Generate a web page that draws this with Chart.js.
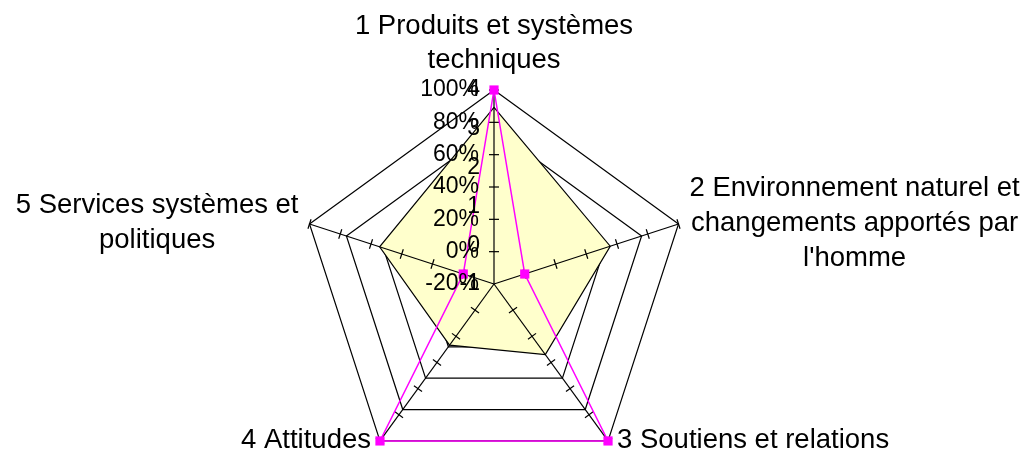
<!DOCTYPE html>
<html><head><meta charset="utf-8">
<script src="https://cdn.jsdelivr.net/npm/chart.js@4/dist/chart.umd.min.js"></script>
<style>html,body{margin:0;padding:0;background:#fff;overflow:hidden}#wrap{width:1026px;height:454px;position:relative}</style>
</head><body><div id="wrap"><canvas id="c" width="1026" height="454"></canvas></div>
<script>
// ---- data ----
const categories = [
  ["1 Produits et systèmes", "techniques"],
  ["2 Environnement naturel et", "changements apportés par", "l'homme"],
  ["3 Soutiens et relations"],
  ["4 Attitudes"],
  ["5 Services systèmes et", "politiques"]
];
const meanScores = [3.55, 2.15, 1.25, 0.95, 2.1];      // score axis (-1 .. 4)
const percentSeries = [100, 0, 100, 100, 0];           // percent axis (-20% .. 100%)
const scoreTicks = [-1, 0, 1, 2, 3, 4];
const scoreTickLabels = ["-1", "0", "1", "2", "3", "4"];
const percentTicks = [-20, 0, 20, 40, 60, 80, 100];
const percentTickLabels = ["-20%", "0%", "20%", "40%", "60%", "80%", "100%"];

const FONT = '"Liberation Sans", Arial, sans-serif';
const LAYOUT = { cx: 494, cy: 284, radius: 194 };

function placeScale(scale) {
  scale.xCenter = LAYOUT.cx;
  scale.yCenter = LAYOUT.cy;
  scale.drawingArea = LAYOUT.radius;
}

const overlay = {
  id: 'overlay',
  beforeDatasetDraw(chart, args) {
    if (args.index !== 0) return;
    const r = chart.scales.r, p = chart.scales.r2, ctx = chart.ctx;
    ctx.save();
    ctx.strokeStyle = '#000';
    ctx.lineWidth = 1.2;
    for (let i = 0; i < categories.length; i++) {
      const outer = r.getPointPosition(i, r.drawingArea);
      ctx.beginPath();
      ctx.moveTo(r.xCenter, r.yCenter);
      ctx.lineTo(outer.x, outer.y);
      ctx.stroke();
      const ang = r.getIndexAngle(i) - Math.PI / 2;
      const px = -Math.sin(ang), py = Math.cos(ang);
      for (const v of percentTicks) {
        if (v <= p.min) continue;
        const q = p.getPointPosition(i, p.getDistanceFromCenterForValue(v));
        ctx.beginPath();
        ctx.moveTo(q.x - 5 * px, q.y - 5 * py);
        ctx.lineTo(q.x + 5 * px, q.y + 5 * py);
        ctx.stroke();
      }
    }
    ctx.restore();
  },
  afterDraw(chart) {
    const r = chart.scales.r, p = chart.scales.r2, ctx = chart.ctx;
    ctx.save();
    ctx.fillStyle = '#000';
    // tick labels
    ctx.font = '23px ' + FONT;
    ctx.textAlign = 'right';
    ctx.textBaseline = 'middle';
    scoreTicks.forEach((v, k) => {
      ctx.fillText(scoreTickLabels[k], r.xCenter - 14, r.yCenter - r.getDistanceFromCenterForValue(v));
    });
    percentTicks.forEach((v, k) => {
      ctx.fillText(percentTickLabels[k], p.xCenter - 15, p.yCenter - p.getDistanceFromCenterForValue(v));
    });
    // category labels
    ctx.font = '27.5px ' + FONT;
    const LH = 35;
    categories.forEach((lines, i) => {
      const v = r.getPointPosition(i, r.drawingArea);
      const w = Math.max(...lines.map(l => ctx.measureText(l).width));
      ctx.textAlign = 'center';
      if (i === 0) {
        ctx.textBaseline = 'alphabetic';
        const base = v.y - 22;
        lines.forEach((l, k) => ctx.fillText(l, v.x, base - (lines.length - 1 - k) * (LH - 1)));
        return;
      }
      ctx.textBaseline = 'middle';
      const bottom = (i === 2 || i === 3);
      const gap = bottom ? 9 : 11;
      const left = v.x > r.xCenter;
      const cxl = left ? v.x + gap + w / 2 : v.x - gap - w / 2;
      const yc = v.y - 1;
      lines.forEach((l, k) => ctx.fillText(l, cxl, yc + (k - (lines.length - 1) / 2) * LH));
    });
    ctx.restore();
  }
};

new Chart(document.getElementById('c'), {
  type: 'radar',
  data: {
    labels: categories,
    datasets: [
      {
        label: 'Pourcentage',
        data: percentSeries,
        rAxisID: 'r2',
        borderColor: '#FF00FF',
        backgroundColor: '#FF00FF',
        borderWidth: 1.5,
        fill: false,
        pointStyle: 'rect',
        pointRadius: 6.5,
        pointBorderWidth: 0,
        pointBackgroundColor: '#FF00FF',
        tension: 0,
        clip: false
      },
      {
        label: 'Moyenne',
        data: meanScores,
        rAxisID: 'r',
        borderColor: '#000000',
        borderWidth: 1.2,
        backgroundColor: '#FFFFCC',
        fill: 'start',
        pointRadius: 0,
        tension: 0,
        clip: false
      }
    ]
  },
  options: {
    responsive: false,
    animation: false,
    events: [],
    layout: { padding: 0 },
    plugins: { legend: { display: false }, tooltip: { enabled: false }, title: { display: false } },
    scales: {
      r: {
        type: 'radialLinear',
        axis: 'r',
        min: -1, max: 4,
        ticks: { display: false, stepSize: 1 },
        grid: { display: true, color: '#000', lineWidth: 1.2 },
        angleLines: { display: false },
        pointLabels: { display: false },
        afterFit: placeScale
      },
      r2: {
        type: 'radialLinear',
        axis: 'r',
        min: -20, max: 100,
        ticks: { display: false, stepSize: 20 },
        grid: { display: false },
        angleLines: { display: false },
        pointLabels: { display: false },
        afterFit: placeScale
      }
    }
  },
  plugins: [overlay]
});
</script></body></html>
